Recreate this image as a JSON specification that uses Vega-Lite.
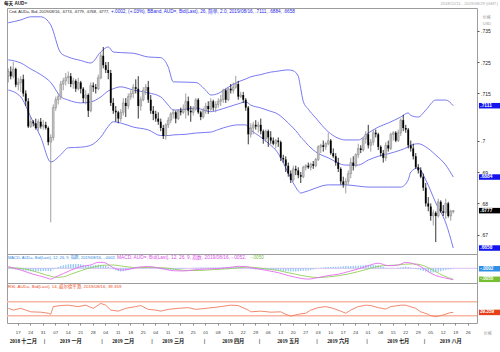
{
"$schema": "https://vega.github.io/schema/vega-lite/v6.json",
"background": "white",
"padding": {"left": 3, "top": 0, "right": 0, "bottom": 0},
"spacing": 0,
"bounds": "flush",
"config": {
  "view": {"stroke": "#9c9c9c", "strokeWidth": 1},
  "text": {"font": "Liberation Sans, Noto Sans CJK SC"}
},
"datasets": {
"px": [
{"date":"2018-12-11","o":0.7205,"h":0.723,"l":0.7185,"c":0.722,"hist":-0.0002},
{"date":"2018-12-12","o":0.722,"h":0.7236,"l":0.7195,"c":0.7205,"hist":-0.0003},
{"date":"2018-12-13","o":0.7205,"h":0.725,"l":0.7198,"c":0.7228,"hist":-0.0004},
{"date":"2018-12-14","o":0.7228,"h":0.7232,"l":0.717,"c":0.7178,"hist":-0.0005},
{"date":"2018-12-17","o":0.7178,"h":0.72,"l":0.716,"c":0.7185,"hist":-0.0006},
{"date":"2018-12-18","o":0.7185,"h":0.7205,"l":0.7155,"c":0.7195,"hist":-0.0008},
{"date":"2018-12-19","o":0.7195,"h":0.721,"l":0.714,"c":0.715,"hist":-0.001},
{"date":"2018-12-20","o":0.715,"h":0.716,"l":0.711,"c":0.7125,"hist":-0.0011},
{"date":"2018-12-21","o":0.7125,"h":0.7135,"l":0.704,"c":0.7045,"hist":-0.0012},
{"date":"2018-12-24","o":0.7045,"h":0.7075,"l":0.704,"c":0.706,"hist":-0.0013},
{"date":"2018-12-25","o":0.706,"h":0.7065,"l":0.7045,"c":0.7055,"hist":-0.0014},
{"date":"2018-12-26","o":0.7055,"h":0.707,"l":0.7035,"c":0.704,"hist":-0.0014},
{"date":"2018-12-27","o":0.704,"h":0.7068,"l":0.703,"c":0.706,"hist":-0.0013},
{"date":"2018-12-28","o":0.706,"h":0.7072,"l":0.7038,"c":0.7045,"hist":-0.0013},
{"date":"2018-12-31","o":0.7045,"h":0.7065,"l":0.7035,"c":0.705,"hist":-0.0012},
{"date":"2019-01-01","o":0.705,"h":0.706,"l":0.7035,"c":0.704,"hist":-0.0012},
{"date":"2019-01-02","o":0.704,"h":0.7045,"l":0.6985,"c":0.6995,"hist":-0.0012},
{"date":"2019-01-03","o":0.6995,"h":0.702,"l":0.674,"c":0.701,"hist":-0.0013},
{"date":"2019-01-04","o":0.701,"h":0.7115,"l":0.7,"c":0.7105,"hist":-0.0005},
{"date":"2019-01-07","o":0.7105,"h":0.714,"l":0.7095,"c":0.713,"hist":0.0002},
{"date":"2019-01-08","o":0.713,"h":0.715,"l":0.7115,"c":0.714,"hist":0.0006},
{"date":"2019-01-09","o":0.714,"h":0.719,"l":0.713,"c":0.718,"hist":0.001},
{"date":"2019-01-10","o":0.718,"h":0.72,"l":0.716,"c":0.719,"hist":0.0014},
{"date":"2019-01-11","o":0.719,"h":0.7215,"l":0.7175,"c":0.72,"hist":0.0016},
{"date":"2019-01-14","o":0.72,"h":0.722,"l":0.718,"c":0.7205,"hist":0.0018},
{"date":"2019-01-15","o":0.7205,"h":0.7215,"l":0.717,"c":0.718,"hist":0.0019},
{"date":"2019-01-16","o":0.718,"h":0.72,"l":0.7165,"c":0.719,"hist":0.0019},
{"date":"2019-01-17","o":0.719,"h":0.7195,"l":0.7155,"c":0.7165,"hist":0.0019},
{"date":"2019-01-18","o":0.7165,"h":0.72,"l":0.716,"c":0.7185,"hist":0.0019},
{"date":"2019-01-21","o":0.7185,"h":0.719,"l":0.715,"c":0.7165,"hist":0.0018},
{"date":"2019-01-22","o":0.7165,"h":0.717,"l":0.712,"c":0.7135,"hist":0.0016},
{"date":"2019-01-23","o":0.7135,"h":0.716,"l":0.7115,"c":0.7145,"hist":0.0014},
{"date":"2019-01-24","o":0.7145,"h":0.715,"l":0.7075,"c":0.7095,"hist":0.0012},
{"date":"2019-01-25","o":0.7095,"h":0.7185,"l":0.709,"c":0.7175,"hist":0.0012},
{"date":"2019-01-28","o":0.7175,"h":0.7185,"l":0.7155,"c":0.717,"hist":0.0013},
{"date":"2019-01-29","o":0.717,"h":0.718,"l":0.715,"c":0.7165,"hist":0.0015},
{"date":"2019-01-30","o":0.7165,"h":0.721,"l":0.716,"c":0.72,"hist":0.0016},
{"date":"2019-01-31","o":0.72,"h":0.728,"l":0.7195,"c":0.727,"hist":0.0015},
{"date":"2019-02-01","o":0.727,"h":0.7298,"l":0.723,"c":0.724,"hist":0.0013},
{"date":"2019-02-04","o":0.724,"h":0.725,"l":0.7215,"c":0.7225,"hist":0.0011},
{"date":"2019-02-05","o":0.7225,"h":0.725,"l":0.7195,"c":0.7215,"hist":0.0008},
{"date":"2019-02-06","o":0.7215,"h":0.7225,"l":0.711,"c":0.712,"hist":0.0003},
{"date":"2019-02-07","o":0.712,"h":0.7135,"l":0.7085,"c":0.7095,"hist":-0.0004},
{"date":"2019-02-08","o":0.7095,"h":0.711,"l":0.706,"c":0.709,"hist":-0.0009},
{"date":"2019-02-11","o":0.709,"h":0.7095,"l":0.7055,"c":0.707,"hist":-0.0012},
{"date":"2019-02-12","o":0.707,"h":0.71,"l":0.706,"c":0.709,"hist":-0.0014},
{"date":"2019-02-13","o":0.709,"h":0.7135,"l":0.708,"c":0.712,"hist":-0.0013},
{"date":"2019-02-14","o":0.712,"h":0.7135,"l":0.7075,"c":0.711,"hist":-0.0011},
{"date":"2019-02-15","o":0.711,"h":0.715,"l":0.71,"c":0.714,"hist":-0.0009},
{"date":"2019-02-18","o":0.714,"h":0.716,"l":0.713,"c":0.715,"hist":-0.0006},
{"date":"2019-02-19","o":0.715,"h":0.718,"l":0.7135,"c":0.717,"hist":-0.0004},
{"date":"2019-02-20","o":0.717,"h":0.7195,"l":0.715,"c":0.7165,"hist":-0.0002},
{"date":"2019-02-21","o":0.7165,"h":0.7205,"l":0.707,"c":0.711,"hist":0},
{"date":"2019-02-22","o":0.711,"h":0.714,"l":0.7095,"c":0.713,"hist":0.0001},
{"date":"2019-02-25","o":0.713,"h":0.717,"l":0.7125,"c":0.716,"hist":0.0002},
{"date":"2019-02-26","o":0.716,"h":0.718,"l":0.7145,"c":0.717,"hist":0.0003},
{"date":"2019-02-27","o":0.717,"h":0.719,"l":0.712,"c":0.713,"hist":0.0003},
{"date":"2019-02-28","o":0.713,"h":0.7145,"l":0.7085,"c":0.7095,"hist":0.0002},
{"date":"2019-03-01","o":0.7095,"h":0.711,"l":0.7065,"c":0.7085,"hist":0.0001},
{"date":"2019-03-04","o":0.7085,"h":0.7095,"l":0.706,"c":0.707,"hist":-0.0001},
{"date":"2019-03-05","o":0.707,"h":0.709,"l":0.705,"c":0.706,"hist":-0.0003},
{"date":"2019-03-06","o":0.706,"h":0.707,"l":0.703,"c":0.704,"hist":-0.0004},
{"date":"2019-03-07","o":0.704,"h":0.705,"l":0.7005,"c":0.7015,"hist":-0.0006},
{"date":"2019-03-08","o":0.7015,"h":0.7055,"l":0.7003,"c":0.705,"hist":-0.0007},
{"date":"2019-03-11","o":0.705,"h":0.7075,"l":0.704,"c":0.7065,"hist":-0.0008},
{"date":"2019-03-12","o":0.7065,"h":0.709,"l":0.7055,"c":0.7085,"hist":-0.0008},
{"date":"2019-03-13","o":0.7085,"h":0.71,"l":0.707,"c":0.709,"hist":-0.0008},
{"date":"2019-03-14","o":0.709,"h":0.7095,"l":0.7055,"c":0.707,"hist":-0.0007},
{"date":"2019-03-15","o":0.707,"h":0.71,"l":0.7065,"c":0.7095,"hist":-0.0005},
{"date":"2019-03-18","o":0.7095,"h":0.7105,"l":0.708,"c":0.709,"hist":-0.0004},
{"date":"2019-03-19","o":0.709,"h":0.7115,"l":0.7085,"c":0.71,"hist":-0.0003},
{"date":"2019-03-20","o":0.71,"h":0.715,"l":0.707,"c":0.7125,"hist":-0.0001},
{"date":"2019-03-21","o":0.7125,"h":0.714,"l":0.708,"c":0.7095,"hist":0},
{"date":"2019-03-22","o":0.7095,"h":0.711,"l":0.706,"c":0.709,"hist":0.0001},
{"date":"2019-03-25","o":0.709,"h":0.711,"l":0.708,"c":0.71,"hist":0.0002},
{"date":"2019-03-26","o":0.71,"h":0.7135,"l":0.7095,"c":0.713,"hist":0.0004},
{"date":"2019-03-27","o":0.713,"h":0.7135,"l":0.7085,"c":0.709,"hist":0.0004},
{"date":"2019-03-28","o":0.709,"h":0.7095,"l":0.7065,"c":0.7075,"hist":0.0004},
{"date":"2019-03-29","o":0.7075,"h":0.7105,"l":0.707,"c":0.7095,"hist":0.0004},
{"date":"2019-04-01","o":0.7095,"h":0.712,"l":0.7085,"c":0.711,"hist":0.0004},
{"date":"2019-04-02","o":0.711,"h":0.7125,"l":0.7085,"c":0.71,"hist":0.0004},
{"date":"2019-04-03","o":0.71,"h":0.7135,"l":0.7095,"c":0.7125,"hist":0.0004},
{"date":"2019-04-04","o":0.7125,"h":0.713,"l":0.7095,"c":0.7105,"hist":0.0004},
{"date":"2019-04-05","o":0.7105,"h":0.7125,"l":0.709,"c":0.7115,"hist":0.0004},
{"date":"2019-04-08","o":0.7115,"h":0.7135,"l":0.7105,"c":0.7125,"hist":0.0004},
{"date":"2019-04-09","o":0.7125,"h":0.7145,"l":0.711,"c":0.713,"hist":0.0004},
{"date":"2019-04-10","o":0.713,"h":0.7165,"l":0.712,"c":0.716,"hist":0.0005},
{"date":"2019-04-11","o":0.716,"h":0.7165,"l":0.712,"c":0.713,"hist":0.0005},
{"date":"2019-04-12","o":0.713,"h":0.717,"l":0.7125,"c":0.7165,"hist":0.0005},
{"date":"2019-04-15","o":0.7165,"h":0.718,"l":0.715,"c":0.716,"hist":0.0006},
{"date":"2019-04-16","o":0.716,"h":0.7185,"l":0.715,"c":0.717,"hist":0.0006},
{"date":"2019-04-17","o":0.717,"h":0.7206,"l":0.7165,"c":0.718,"hist":0.0007},
{"date":"2019-04-18","o":0.718,"h":0.719,"l":0.713,"c":0.714,"hist":0.0007},
{"date":"2019-04-19","o":0.714,"h":0.7155,"l":0.7135,"c":0.7145,"hist":0.0005},
{"date":"2019-04-22","o":0.7145,"h":0.7155,"l":0.712,"c":0.713,"hist":0.0004},
{"date":"2019-04-23","o":0.713,"h":0.7135,"l":0.7095,"c":0.7105,"hist":0.0002},
{"date":"2019-04-24","o":0.7105,"h":0.711,"l":0.6988,"c":0.702,"hist":-0.0001},
{"date":"2019-04-25","o":0.702,"h":0.7055,"l":0.701,"c":0.704,"hist":-0.0003},
{"date":"2019-04-26","o":0.704,"h":0.706,"l":0.702,"c":0.705,"hist":-0.0004},
{"date":"2019-04-29","o":0.705,"h":0.7065,"l":0.7035,"c":0.7045,"hist":-0.0005},
{"date":"2019-04-30","o":0.7045,"h":0.706,"l":0.7025,"c":0.705,"hist":-0.0005},
{"date":"2019-05-01","o":0.705,"h":0.707,"l":0.702,"c":0.703,"hist":-0.0006},
{"date":"2019-05-02","o":0.703,"h":0.7035,"l":0.699,"c":0.7005,"hist":-0.0006},
{"date":"2019-05-03","o":0.7005,"h":0.7035,"l":0.6995,"c":0.703,"hist":-0.0007},
{"date":"2019-05-06","o":0.703,"h":0.7035,"l":0.698,"c":0.701,"hist":-0.0007},
{"date":"2019-05-07","o":0.701,"h":0.703,"l":0.699,"c":0.7,"hist":-0.0008},
{"date":"2019-05-08","o":0.7,"h":0.701,"l":0.6985,"c":0.699,"hist":-0.0009},
{"date":"2019-05-09","o":0.699,"h":0.7005,"l":0.6975,"c":0.7,"hist":-0.0009},
{"date":"2019-05-10","o":0.7,"h":0.701,"l":0.698,"c":0.6995,"hist":-0.001},
{"date":"2019-05-13","o":0.6995,"h":0.7,"l":0.6935,"c":0.6945,"hist":-0.0011},
{"date":"2019-05-14","o":0.6945,"h":0.6955,"l":0.693,"c":0.694,"hist":-0.0012},
{"date":"2019-05-15","o":0.694,"h":0.695,"l":0.69,"c":0.692,"hist":-0.0013},
{"date":"2019-05-16","o":0.692,"h":0.693,"l":0.6885,"c":0.6895,"hist":-0.0013},
{"date":"2019-05-17","o":0.6895,"h":0.6905,"l":0.6865,"c":0.6875,"hist":-0.0014},
{"date":"2019-05-20","o":0.6875,"h":0.692,"l":0.687,"c":0.691,"hist":-0.0014},
{"date":"2019-05-21","o":0.691,"h":0.692,"l":0.689,"c":0.6905,"hist":-0.0014},
{"date":"2019-05-22","o":0.6905,"h":0.6915,"l":0.688,"c":0.689,"hist":-0.0013},
{"date":"2019-05-23","o":0.689,"h":0.69,"l":0.6865,"c":0.6885,"hist":-0.0012},
{"date":"2019-05-24","o":0.6885,"h":0.692,"l":0.688,"c":0.6915,"hist":-0.0011},
{"date":"2019-05-27","o":0.6915,"h":0.6925,"l":0.6905,"c":0.692,"hist":-0.0011},
{"date":"2019-05-28","o":0.692,"h":0.693,"l":0.691,"c":0.6915,"hist":-0.001},
{"date":"2019-05-29","o":0.6915,"h":0.693,"l":0.6905,"c":0.6925,"hist":-0.0008},
{"date":"2019-05-30","o":0.6925,"h":0.6935,"l":0.691,"c":0.692,"hist":-0.0005},
{"date":"2019-05-31","o":0.692,"h":0.6945,"l":0.6915,"c":0.694,"hist":-0.0002},
{"date":"2019-06-03","o":0.694,"h":0.6985,"l":0.6935,"c":0.698,"hist":0},
{"date":"2019-06-04","o":0.698,"h":0.699,"l":0.696,"c":0.6985,"hist":0.0002},
{"date":"2019-06-05","o":0.6985,"h":0.7,"l":0.6965,"c":0.698,"hist":0.0004},
{"date":"2019-06-06","o":0.698,"h":0.6995,"l":0.697,"c":0.699,"hist":0.0006},
{"date":"2019-06-07","o":0.699,"h":0.7025,"l":0.6985,"c":0.7,"hist":0.0006},
{"date":"2019-06-10","o":0.7,"h":0.7005,"l":0.6955,"c":0.696,"hist":0.0006},
{"date":"2019-06-11","o":0.696,"h":0.6975,"l":0.6945,"c":0.695,"hist":0.0007},
{"date":"2019-06-12","o":0.695,"h":0.696,"l":0.692,"c":0.693,"hist":0.0007},
{"date":"2019-06-13","o":0.693,"h":0.6945,"l":0.69,"c":0.691,"hist":0.0007},
{"date":"2019-06-14","o":0.691,"h":0.6915,"l":0.686,"c":0.687,"hist":0.0008},
{"date":"2019-06-17","o":0.687,"h":0.6885,"l":0.685,"c":0.686,"hist":0.0009},
{"date":"2019-06-18","o":0.686,"h":0.688,"l":0.6832,"c":0.687,"hist":0.001},
{"date":"2019-06-19","o":0.687,"h":0.6905,"l":0.686,"c":0.6895,"hist":0.0011},
{"date":"2019-06-20","o":0.6895,"h":0.6945,"l":0.688,"c":0.693,"hist":0.0011},
{"date":"2019-06-21","o":0.693,"h":0.695,"l":0.6905,"c":0.692,"hist":0.0012},
{"date":"2019-06-24","o":0.692,"h":0.696,"l":0.6915,"c":0.6955,"hist":0.0012},
{"date":"2019-06-25","o":0.6955,"h":0.699,"l":0.6945,"c":0.6975,"hist":0.0012},
{"date":"2019-06-26","o":0.6975,"h":0.6985,"l":0.696,"c":0.697,"hist":0.0013},
{"date":"2019-06-27","o":0.697,"h":0.701,"l":0.6965,"c":0.7005,"hist":0.0014},
{"date":"2019-06-28","o":0.7005,"h":0.703,"l":0.699,"c":0.702,"hist":0.0015},
{"date":"2019-07-01","o":0.702,"h":0.705,"l":0.6975,"c":0.6985,"hist":0.0015},
{"date":"2019-07-02","o":0.6985,"h":0.7005,"l":0.6965,"c":0.6995,"hist":0.0015},
{"date":"2019-07-03","o":0.6995,"h":0.7035,"l":0.6985,"c":0.7025,"hist":0.0015},
{"date":"2019-07-04","o":0.7025,"h":0.7035,"l":0.701,"c":0.702,"hist":0.0014},
{"date":"2019-07-05","o":0.702,"h":0.7025,"l":0.697,"c":0.698,"hist":0.0014},
{"date":"2019-07-08","o":0.698,"h":0.6985,"l":0.695,"c":0.696,"hist":0.001},
{"date":"2019-07-09","o":0.696,"h":0.697,"l":0.693,"c":0.6945,"hist":0.0006},
{"date":"2019-07-10","o":0.6945,"h":0.6995,"l":0.6935,"c":0.6985,"hist":0.0002},
{"date":"2019-07-11","o":0.6985,"h":0.7,"l":0.6965,"c":0.6975,"hist":-0.0001},
{"date":"2019-07-12","o":0.6975,"h":0.7025,"l":0.697,"c":0.702,"hist":-0.0001},
{"date":"2019-07-15","o":0.702,"h":0.703,"l":0.7,"c":0.7025,"hist":0},
{"date":"2019-07-16","o":0.7025,"h":0.703,"l":0.6995,"c":0.7,"hist":0},
{"date":"2019-07-17","o":0.7,"h":0.7035,"l":0.6995,"c":0.7025,"hist":0.0002},
{"date":"2019-07-18","o":0.7025,"h":0.707,"l":0.7015,"c":0.7065,"hist":0.0004},
{"date":"2019-07-19","o":0.7065,"h":0.7082,"l":0.703,"c":0.704,"hist":0.0006},
{"date":"2019-07-22","o":0.704,"h":0.705,"l":0.7025,"c":0.7035,"hist":0.0008},
{"date":"2019-07-23","o":0.7035,"h":0.704,"l":0.6975,"c":0.6985,"hist":0.0006},
{"date":"2019-07-24","o":0.6985,"h":0.7,"l":0.6965,"c":0.6975,"hist":0.0004},
{"date":"2019-07-25","o":0.6975,"h":0.699,"l":0.694,"c":0.695,"hist":0.0001},
{"date":"2019-07-26","o":0.695,"h":0.696,"l":0.691,"c":0.6915,"hist":-0.0003},
{"date":"2019-07-29","o":0.6915,"h":0.6925,"l":0.6895,"c":0.6905,"hist":-0.0006},
{"date":"2019-07-30","o":0.6905,"h":0.6915,"l":0.688,"c":0.6885,"hist":-0.0009},
{"date":"2019-07-31","o":0.6885,"h":0.6895,"l":0.684,"c":0.685,"hist":-0.0012},
{"date":"2019-08-01","o":0.685,"h":0.6865,"l":0.679,"c":0.68,"hist":-0.0015},
{"date":"2019-08-02","o":0.68,"h":0.682,"l":0.6775,"c":0.679,"hist":-0.0018},
{"date":"2019-08-05","o":0.679,"h":0.68,"l":0.6745,"c":0.676,"hist":-0.0019},
{"date":"2019-08-06","o":0.676,"h":0.678,"l":0.673,"c":0.677,"hist":-0.0019},
{"date":"2019-08-07","o":0.677,"h":0.6775,"l":0.6677,"c":0.676,"hist":-0.0018},
{"date":"2019-08-08","o":0.676,"h":0.6815,"l":0.6755,"c":0.6805,"hist":-0.0016},
{"date":"2019-08-09","o":0.6805,"h":0.681,"l":0.677,"c":0.6775,"hist":-0.0013},
{"date":"2019-08-12","o":0.6775,"h":0.6795,"l":0.676,"c":0.677,"hist":-0.001},
{"date":"2019-08-13","o":0.677,"h":0.6815,"l":0.675,"c":0.68,"hist":-0.0008},
{"date":"2019-08-14","o":0.68,"h":0.6805,"l":0.6755,"c":0.676,"hist":-0.0006},
{"date":"2019-08-15","o":0.676,"h":0.678,"l":0.6745,"c":0.6775,"hist":-0.0004},
{"date":"2019-08-16","o":0.6774,"h":0.6779,"l":0.6768,"c":0.6777,"hist":-0.0002}
],
"bb": [
{"date":"2018-12-11","up":0.7375,"mid":0.7257,"lo":0.7161},
{"date":"2018-12-18","up":0.7384,"mid":0.7247,"lo":0.7139},
{"date":"2018-12-24","up":0.7394,"mid":0.7228,"lo":0.7075},
{"date":"2018-12-28","up":0.7394,"mid":0.721,"lo":0.7011},
{"date":"2019-01-03","up":0.7368,"mid":0.7185,"lo":0.6932},
{"date":"2019-01-09","up":0.7279,"mid":0.714,"lo":0.6955},
{"date":"2019-01-14","up":0.7266,"mid":0.7129,"lo":0.6977},
{"date":"2019-01-21","up":0.7255,"mid":0.712,"lo":0.6979},
{"date":"2019-01-25","up":0.7247,"mid":0.7123,"lo":0.6985},
{"date":"2019-01-31","up":0.7282,"mid":0.7139,"lo":0.7011},
{"date":"2019-02-05","up":0.7298,"mid":0.7158,"lo":0.7045},
{"date":"2019-02-07","up":0.7282,"mid":0.7165,"lo":0.706},
{"date":"2019-02-12","up":0.728,"mid":0.7171,"lo":0.7056},
{"date":"2019-02-19","up":0.7278,"mid":0.7161,"lo":0.7043},
{"date":"2019-02-27","up":0.7266,"mid":0.7152,"lo":0.7034},
{"date":"2019-03-06","up":0.7264,"mid":0.7139,"lo":0.7016},
{"date":"2019-03-11","up":0.7234,"mid":0.7113,"lo":0.7016},
{"date":"2019-03-13","up":0.7187,"mid":0.7097,"lo":0.7018},
{"date":"2019-03-20","up":0.7186,"mid":0.71,"lo":0.702},
{"date":"2019-03-26","up":0.7185,"mid":0.7104,"lo":0.7024},
{"date":"2019-04-01","up":0.716,"mid":0.7095,"lo":0.7026},
{"date":"2019-04-03","up":0.7145,"mid":0.7092,"lo":0.7027},
{"date":"2019-04-08","up":0.715,"mid":0.7097,"lo":0.7035},
{"date":"2019-04-12","up":0.717,"mid":0.7107,"lo":0.7045},
{"date":"2019-04-18","up":0.7187,"mid":0.7117,"lo":0.705},
{"date":"2019-04-23","up":0.7196,"mid":0.7123,"lo":0.705},
{"date":"2019-04-25","up":0.7203,"mid":0.7113,"lo":0.7034},
{"date":"2019-05-01","up":0.721,"mid":0.7104,"lo":0.7011},
{"date":"2019-05-07","up":0.7218,"mid":0.7093,"lo":0.6985},
{"date":"2019-05-09","up":0.722,"mid":0.7088,"lo":0.697},
{"date":"2019-05-16","up":0.7225,"mid":0.7056,"lo":0.6897},
{"date":"2019-05-20","up":0.7222,"mid":0.704,"lo":0.6865},
{"date":"2019-05-22","up":0.7205,"mid":0.7022,"lo":0.684},
{"date":"2019-05-23","up":0.7165,"mid":0.7011,"lo":0.6833},
{"date":"2019-05-24","up":0.7125,"mid":0.7003,"lo":0.6835},
{"date":"2019-05-28","up":0.71,"mid":0.6985,"lo":0.684},
{"date":"2019-05-31","up":0.7072,"mid":0.6964,"lo":0.6849},
{"date":"2019-06-07","up":0.7028,"mid":0.6945,"lo":0.6859},
{"date":"2019-06-18","up":0.7002,"mid":0.6922,"lo":0.6859},
{"date":"2019-06-25","up":0.7002,"mid":0.6922,"lo":0.6855},
{"date":"2019-07-01","up":0.7024,"mid":0.6938,"lo":0.6852},
{"date":"2019-07-05","up":0.7043,"mid":0.695,"lo":0.6852},
{"date":"2019-07-11","up":0.7056,"mid":0.6958,"lo":0.6852},
{"date":"2019-07-18","up":0.7075,"mid":0.697,"lo":0.6852},
{"date":"2019-07-23","up":0.7088,"mid":0.698,"lo":0.6875},
{"date":"2019-07-24","up":0.708,"mid":0.6985,"lo":0.69},
{"date":"2019-07-29","up":0.7075,"mid":0.699,"lo":0.6913},
{"date":"2019-08-01","up":0.7097,"mid":0.698,"lo":0.6875},
{"date":"2019-08-07","up":0.7129,"mid":0.6954,"lo":0.6802},
{"date":"2019-08-13","up":0.7129,"mid":0.6922,"lo":0.6738},
{"date":"2019-08-16","up":0.7111,"mid":0.6884,"lo":0.6658}
],
"macd": [
{"date":"2018-12-11","macd":0.0008,"sig":0.0003},
{"date":"2018-12-18","macd":-0.0008,"sig":0},
{"date":"2018-12-25","macd":-0.0027,"sig":-0.0012},
{"date":"2019-01-01","macd":-0.0042,"sig":-0.003},
{"date":"2019-01-03","macd":-0.0049,"sig":-0.0036},
{"date":"2019-01-07","macd":-0.0039,"sig":-0.0041},
{"date":"2019-01-10","macd":-0.0024,"sig":-0.0039},
{"date":"2019-01-15","macd":-0.0009,"sig":-0.0027},
{"date":"2019-01-21","macd":0.0008,"sig":-0.0011},
{"date":"2019-01-25","macd":0.0015,"sig":0.0003},
{"date":"2019-01-30","macd":0.0027,"sig":0.001},
{"date":"2019-02-01","macd":0.0027,"sig":0.0014},
{"date":"2019-02-07","macd":0.0003,"sig":0.0015},
{"date":"2019-02-12","macd":-0.0008,"sig":0.0011},
{"date":"2019-02-15","macd":-0.0005,"sig":0.0006},
{"date":"2019-02-21","macd":0.0005,"sig":0.0003},
{"date":"2019-02-27","macd":0.0008,"sig":0.0004},
{"date":"2019-03-06","macd":0,"sig":0.0003},
{"date":"2019-03-13","macd":-0.0011,"sig":-0.0003},
{"date":"2019-03-19","macd":-0.0012,"sig":-0.0009},
{"date":"2019-03-27","macd":-0.0005,"sig":-0.001},
{"date":"2019-04-04","macd":-0.0002,"sig":-0.0006},
{"date":"2019-04-12","macd":0.0003,"sig":-0.0002},
{"date":"2019-04-18","macd":0.0009,"sig":0.0002},
{"date":"2019-04-23","macd":0.0008,"sig":0.0005},
{"date":"2019-04-25","macd":0.0003,"sig":0.0005},
{"date":"2019-04-30","macd":-0.0003,"sig":0.0002},
{"date":"2019-05-06","macd":-0.0011,"sig":-0.0004},
{"date":"2019-05-10","macd":-0.002,"sig":-0.001},
{"date":"2019-05-16","macd":-0.0033,"sig":-0.002},
{"date":"2019-05-21","macd":-0.0041,"sig":-0.0027},
{"date":"2019-05-28","macd":-0.0049,"sig":-0.0038},
{"date":"2019-06-03","macd":-0.0042,"sig":-0.0042},
{"date":"2019-06-07","macd":-0.0033,"sig":-0.0039},
{"date":"2019-06-13","macd":-0.0027,"sig":-0.0034},
{"date":"2019-06-19","macd":-0.0015,"sig":-0.0026},
{"date":"2019-06-25","macd":-0.0003,"sig":-0.0015},
{"date":"2019-07-01","macd":0.0012,"sig":-0.0003},
{"date":"2019-07-05","macd":0.0023,"sig":0.0009},
{"date":"2019-07-11","macd":0.0012,"sig":0.0013},
{"date":"2019-07-17","macd":0.0015,"sig":0.0015},
{"date":"2019-07-22","macd":0.0027,"sig":0.0019},
{"date":"2019-07-25","macd":0.0021,"sig":0.002},
{"date":"2019-07-30","macd":0.0008,"sig":0.0016},
{"date":"2019-08-02","macd":-0.0015,"sig":0.0003},
{"date":"2019-08-07","macd":-0.0033,"sig":-0.0015},
{"date":"2019-08-12","macd":-0.0042,"sig":-0.0033},
{"date":"2019-08-16","macd":-0.0052,"sig":-0.005}
],
"rsi": [
{"date":"2018-12-11","rsi":51},{"date":"2018-12-13","rsi":46},{"date":"2018-12-18","rsi":51},{"date":"2018-12-24","rsi":41},
{"date":"2018-12-28","rsi":40},{"date":"2019-01-02","rsi":37},{"date":"2019-01-03","rsi":34},{"date":"2019-01-04","rsi":56},
{"date":"2019-01-09","rsi":59},{"date":"2019-01-14","rsi":60},{"date":"2019-01-18","rsi":56},{"date":"2019-01-23","rsi":60},
{"date":"2019-01-28","rsi":51},{"date":"2019-01-31","rsi":65},{"date":"2019-02-04","rsi":60},{"date":"2019-02-06","rsi":46},
{"date":"2019-02-11","rsi":43},{"date":"2019-02-14","rsi":51},{"date":"2019-02-20","rsi":56},{"date":"2019-02-22","rsi":59},
{"date":"2019-02-27","rsi":48},{"date":"2019-03-04","rsi":46},{"date":"2019-03-06","rsi":43},{"date":"2019-03-11","rsi":48},
{"date":"2019-03-15","rsi":51},{"date":"2019-03-21","rsi":53},{"date":"2019-03-26","rsi":48},{"date":"2019-04-01","rsi":51},
{"date":"2019-04-05","rsi":54},{"date":"2019-04-09","rsi":56},{"date":"2019-04-15","rsi":60},{"date":"2019-04-18","rsi":59},
{"date":"2019-04-24","rsi":46},{"date":"2019-04-25","rsi":41},{"date":"2019-05-01","rsi":43},{"date":"2019-05-07","rsi":40},
{"date":"2019-05-13","rsi":41},{"date":"2019-05-15","rsi":34},{"date":"2019-05-17","rsi":29},{"date":"2019-05-22","rsi":34},
{"date":"2019-05-27","rsi":37},{"date":"2019-05-29","rsi":46},{"date":"2019-06-03","rsi":53},{"date":"2019-06-06","rsi":56},
{"date":"2019-06-11","rsi":51},{"date":"2019-06-14","rsi":43},{"date":"2019-06-18","rsi":37},{"date":"2019-06-20","rsi":46},
{"date":"2019-06-25","rsi":56},{"date":"2019-06-28","rsi":60},{"date":"2019-07-02","rsi":59},{"date":"2019-07-05","rsi":53},
{"date":"2019-07-10","rsi":49},{"date":"2019-07-12","rsi":56},{"date":"2019-07-18","rsi":60},{"date":"2019-07-22","rsi":60},
{"date":"2019-07-26","rsi":51},{"date":"2019-07-30","rsi":41},{"date":"2019-08-02","rsi":34},{"date":"2019-08-05","rsi":30},
{"date":"2019-08-07","rsi":27},{"date":"2019-08-12","rsi":32},{"date":"2019-08-14","rsi":37},{"date":"2019-08-15","rsi":39},
{"date":"2019-08-16","rsi":39.359}
],
"lvl": [
{"p":"macd","v":0},{"p":"rsi","v":70},{"p":"rsi","v":30}
],
"tags": [
{"p":"main","k":"bb","date":"2019-08-29","v":0.7111,"t":".7111"},
{"p":"main","k":"bb","date":"2019-08-29","v":0.6884,"t":".6884"},
{"p":"main","k":"bb","date":"2019-08-29","v":0.6658,"t":".6658"},
{"p":"main","k":"px","date":"2019-08-29","v":0.6777,"t":".6777"},
{"p":"macd","k":"hist","date":"2019-08-29","v":-0.0002,"t":"-.0002"},
{"p":"macd","k":"sig","date":"2019-08-29","v":-0.005,"t":"-.0050"},
{"p":"rsi","k":"rsi","date":"2019-08-29","v":39.359,"t":"39.359"}
],
"notes": [
{"pos":"tl","date":"2018-12-11","t":"每天 AUD="},
{"pos":"tr","date":"2019-08-29","t":"2018/12/11 - 2019/08/29 (GMT)"},
{"pos":"l1","date":"2018-12-11","t":"Cnd, AUD=, Bid, 2019/08/16, .6774, .6779, .6768, .6777,"},
{"pos":"l2","date":"2018-12-11","t":"+.0002, (+.03%), BBand, AUD=, Bid(Last), 26, 简单, 2.0, 2019/08/16, .7111, .6884, .6658"},
{"pos":"u1","date":"2019-08-29","t":"价格"},
{"pos":"u2","date":"2019-08-29","t":"USD"},
{"pos":"m1","date":"2018-12-11","t":"MACD, AUD=, Bid(Last), 12, 26, 9, 指数, 2019/08/16, -.0002,"},
{"pos":"m2","date":"2018-12-11","t":"MACD, AUD=, Bid(Last), 12, 26, 9, 指数, 2019/08/16, -.0052,"},
{"pos":"m3","date":"2018-12-11","t":"-.0050"},
{"pos":"r1","date":"2018-12-11","t":"RSI, AUD=, Bid(Last), 14, 威尔德平滑, 2019/08/16, 39.359"},
{"pos":"b1","date":"2019-08-29","t":"价格"}
],
"mon": [
{"date":"2018-12-19","label":"2018 十二月"},
{"date":"2019-01-15","label":"2019 一月"},
{"date":"2019-02-13","label":"2019 二月"},
{"date":"2019-03-13","label":"2019 三月"},
{"date":"2019-04-16","label":"2019 四月"},
{"date":"2019-05-16","label":"2019 五月"},
{"date":"2019-06-13","label":"2019 六月"},
{"date":"2019-07-17","label":"2019 七月"},
{"date":"2019-08-15","label":"2019 八月"}
],
"sep": [
{"date":"2019-01-01"},{"date":"2019-02-01"},{"date":"2019-03-01"},{"date":"2019-04-01"},
{"date":"2019-05-01"},{"date":"2019-06-03"},{"date":"2019-07-01"},{"date":"2019-08-01"}
]
},
"vconcat": [
{
"width": 470, "height": 246,
"layer": [
{"data": {"name": "bb"}, "mark": {"type": "line", "color": "#6a6aee", "strokeWidth": 0.9, "interpolate": "monotone"},
 "encoding": {"x": {"field": "date", "type": "ordinal", "axis": null, "scale": {"type": "band", "paddingInner": 0, "paddingOuter": 0, "domain": ["2018-12-11","2018-12-12","2018-12-13","2018-12-14","2018-12-17","2018-12-18","2018-12-19","2018-12-20","2018-12-21","2018-12-24","2018-12-25","2018-12-26","2018-12-27","2018-12-28","2018-12-31","2019-01-01","2019-01-02","2019-01-03","2019-01-04","2019-01-07","2019-01-08","2019-01-09","2019-01-10","2019-01-11","2019-01-14","2019-01-15","2019-01-16","2019-01-17","2019-01-18","2019-01-21","2019-01-22","2019-01-23","2019-01-24","2019-01-25","2019-01-28","2019-01-29","2019-01-30","2019-01-31","2019-02-01","2019-02-04","2019-02-05","2019-02-06","2019-02-07","2019-02-08","2019-02-11","2019-02-12","2019-02-13","2019-02-14","2019-02-15","2019-02-18","2019-02-19","2019-02-20","2019-02-21","2019-02-22","2019-02-25","2019-02-26","2019-02-27","2019-02-28","2019-03-01","2019-03-04","2019-03-05","2019-03-06","2019-03-07","2019-03-08","2019-03-11","2019-03-12","2019-03-13","2019-03-14","2019-03-15","2019-03-18","2019-03-19","2019-03-20","2019-03-21","2019-03-22","2019-03-25","2019-03-26","2019-03-27","2019-03-28","2019-03-29","2019-04-01","2019-04-02","2019-04-03","2019-04-04","2019-04-05","2019-04-08","2019-04-09","2019-04-10","2019-04-11","2019-04-12","2019-04-15","2019-04-16","2019-04-17","2019-04-18","2019-04-19","2019-04-22","2019-04-23","2019-04-24","2019-04-25","2019-04-26","2019-04-29","2019-04-30","2019-05-01","2019-05-02","2019-05-03","2019-05-06","2019-05-07","2019-05-08","2019-05-09","2019-05-10","2019-05-13","2019-05-14","2019-05-15","2019-05-16","2019-05-17","2019-05-20","2019-05-21","2019-05-22","2019-05-23","2019-05-24","2019-05-27","2019-05-28","2019-05-29","2019-05-30","2019-05-31","2019-06-03","2019-06-04","2019-06-05","2019-06-06","2019-06-07","2019-06-10","2019-06-11","2019-06-12","2019-06-13","2019-06-14","2019-06-17","2019-06-18","2019-06-19","2019-06-20","2019-06-21","2019-06-24","2019-06-25","2019-06-26","2019-06-27","2019-06-28","2019-07-01","2019-07-02","2019-07-03","2019-07-04","2019-07-05","2019-07-08","2019-07-09","2019-07-10","2019-07-11","2019-07-12","2019-07-15","2019-07-16","2019-07-17","2019-07-18","2019-07-19","2019-07-22","2019-07-23","2019-07-24","2019-07-25","2019-07-26","2019-07-29","2019-07-30","2019-07-31","2019-08-01","2019-08-02","2019-08-05","2019-08-06","2019-08-07","2019-08-08","2019-08-09","2019-08-12","2019-08-13","2019-08-14","2019-08-15","2019-08-16","2019-08-19","2019-08-20","2019-08-21","2019-08-22","2019-08-23","2019-08-26","2019-08-27","2019-08-28","2019-08-29"]}},
  "y": {"field": "up", "type": "quantitative", "title": null, "scale": {"domain": [0.6639, 0.7422], "nice": false, "zero": false}}}},
{"data": {"name": "bb"}, "mark": {"type": "line", "color": "#6a6aee", "strokeWidth": 0.9, "interpolate": "monotone"},
 "encoding": {"x": {"field": "date", "type": "ordinal", "axis": null}, "y": {"field": "mid", "type": "quantitative", "title": null}}},
{"data": {"name": "bb"}, "mark": {"type": "line", "color": "#6a6aee", "strokeWidth": 0.9, "interpolate": "monotone"},
 "encoding": {"x": {"field": "date", "type": "ordinal", "axis": null}, "y": {"field": "lo", "type": "quantitative", "title": null}}},
{"data": {"name": "px"}, "transform": [{"filter": "datum.c >= datum.o"}], "mark": {"type": "rule", "strokeWidth": 0.8, "color": "#888888"},
 "encoding": {"x": {"field": "date", "type": "ordinal", "axis": null}, "y": {"field": "l", "type": "quantitative", "title": null}, "y2": {"field": "h"}}},
{"data": {"name": "px"}, "transform": [{"filter": "datum.c < datum.o"}], "mark": {"type": "rule", "strokeWidth": 0.8, "color": "#000000"},
 "encoding": {"x": {"field": "date", "type": "ordinal", "axis": null}, "y": {"field": "l", "type": "quantitative", "title": null}, "y2": {"field": "h"}}},
{"data": {"name": "px"}, "transform": [{"filter": "datum.c >= datum.o"}], "mark": {"type": "bar", "size": 1.8, "fill": "#c8c8c8", "stroke": "#7e7e7e", "strokeWidth": 0.5},
 "encoding": {"x": {"field": "date", "type": "ordinal", "axis": null}, "y": {"field": "o", "type": "quantitative", "title": null}, "y2": {"field": "c"}}},
{"data": {"name": "px"}, "transform": [{"filter": "datum.c < datum.o"}], "mark": {"type": "bar", "size": 1.8, "color": "#000000"},
 "encoding": {"x": {"field": "date", "type": "ordinal", "axis": null},
  "y": {"field": "o", "type": "quantitative", "title": null,
    "axis": {"orient": "right", "title": null, "grid": false, "domain": false, "labelOverlap": false, "values": [0.67,0.675,0.68,0.685,0.69,0.695,0.7,0.705,0.715,0.72,0.725,0.73,0.735], "labelExpr": "substring(format(datum.value, '.3~f'), 1)", "tickSize": 2, "tickColor": "#555555", "labelFontSize": 5, "labelColor": "#222222", "labelPadding": 1.5}},
  "y2": {"field": "c"}}},
{"data": {"name": "tags"}, "transform": [{"filter": "datum.p == 'main' && datum.k == 'bb'"}],
 "mark": {"type": "point", "shape": "M0,-0.25H2V0.25H0Z", "size": 484, "filled": true, "opacity": 1, "strokeWidth": 0, "xOffset": 3.2, "color": "#1414f0"},
 "encoding": {"x": {"field": "date", "type": "ordinal", "axis": null}, "y": {"field": "v", "type": "quantitative", "title": null}}},
{"data": {"name": "tags"}, "transform": [{"filter": "datum.p == 'main' && datum.k == 'px'"}],
 "mark": {"type": "point", "shape": "M0,-0.25H2V0.25H0Z", "size": 484, "filled": true, "opacity": 1, "strokeWidth": 0, "xOffset": 3.2, "color": "#000000"},
 "encoding": {"x": {"field": "date", "type": "ordinal", "axis": null}, "y": {"field": "v", "type": "quantitative", "title": null}}},
{"data": {"name": "tags"}, "transform": [{"filter": "datum.p == 'main'"}],
 "mark": {"type": "text", "align": "left", "baseline": "middle", "dx": 4.6, "fontSize": 4.8, "fontWeight": "bold", "color": "#ffffff"},
 "encoding": {"x": {"field": "date", "type": "ordinal", "axis": null}, "y": {"field": "v", "type": "quantitative", "title": null}, "text": {"field": "t"}}},
{"data": {"name": "notes"}, "transform": [{"filter": "datum.pos == 'tl'"}],
 "mark": {"type": "text", "align": "left", "baseline": "middle", "dx": -4.25, "dy": -4, "fontSize": 4.6, "fontWeight": "bold", "color": "#222222"},
 "encoding": {"x": {"field": "date", "type": "ordinal", "axis": null}, "y": {"datum": 0.7422, "type": "quantitative", "title": null}, "text": {"field": "t"}}},
{"data": {"name": "notes"}, "transform": [{"filter": "datum.pos == 'tr'"}],
 "mark": {"type": "text", "align": "right", "baseline": "middle", "dx": 22, "dy": -4, "fontSize": 4.1, "color": "#aaaaaa"},
 "encoding": {"x": {"field": "date", "type": "ordinal", "axis": null}, "y": {"datum": 0.7422, "type": "quantitative", "title": null}, "text": {"field": "t"}}},
{"data": {"name": "notes"}, "transform": [{"filter": "datum.pos == 'l1'"}],
 "mark": {"type": "text", "align": "left", "baseline": "middle", "dx": 0.75, "dy": 4, "fontSize": 4, "color": "#222222"},
 "encoding": {"x": {"field": "date", "type": "ordinal", "axis": null}, "y": {"datum": 0.7422, "type": "quantitative", "title": null}, "text": {"field": "t"}}},
{"data": {"name": "notes"}, "transform": [{"filter": "datum.pos == 'l2'"}],
 "mark": {"type": "text", "align": "left", "baseline": "middle", "dx": 102.75, "dy": 4, "fontSize": 4.7, "color": "#2a2ae6"},
 "encoding": {"x": {"field": "date", "type": "ordinal", "axis": null}, "y": {"datum": 0.7422, "type": "quantitative", "title": null}, "text": {"field": "t"}}},
{"data": {"name": "notes"}, "transform": [{"filter": "datum.pos == 'u1'"}],
 "mark": {"type": "text", "align": "left", "baseline": "middle", "dx": 7, "dy": 10, "fontSize": 4, "color": "#9a9a9a"},
 "encoding": {"x": {"field": "date", "type": "ordinal", "axis": null}, "y": {"datum": 0.7422, "type": "quantitative", "title": null}, "text": {"field": "t"}}},
{"data": {"name": "notes"}, "transform": [{"filter": "datum.pos == 'u2'"}],
 "mark": {"type": "text", "align": "left", "baseline": "middle", "dx": 7, "dy": 16, "fontSize": 4, "color": "#9a9a9a"},
 "encoding": {"x": {"field": "date", "type": "ordinal", "axis": null}, "y": {"datum": 0.7422, "type": "quantitative", "title": null}, "text": {"field": "t"}}}
]
},
{
"width": 470, "height": 29,
"layer": [
{"data": {"name": "lvl"}, "transform": [{"filter": "datum.p == 'macd'"}], "mark": {"type": "rule", "color": "#cda6ec", "strokeWidth": 0.7},
 "encoding": {"y": {"field": "v", "type": "quantitative", "axis": null, "scale": {"domain": [-0.00668, 0.0065], "nice": false, "zero": false}}}},
{"data": {"name": "px"}, "mark": {"type": "bar", "size": 1.2, "color": "#8ac6f2"},
 "encoding": {"x": {"field": "date", "type": "ordinal", "axis": null, "scale": {"type": "band", "paddingInner": 0, "paddingOuter": 0, "domain": ["2018-12-11","2018-12-12","2018-12-13","2018-12-14","2018-12-17","2018-12-18","2018-12-19","2018-12-20","2018-12-21","2018-12-24","2018-12-25","2018-12-26","2018-12-27","2018-12-28","2018-12-31","2019-01-01","2019-01-02","2019-01-03","2019-01-04","2019-01-07","2019-01-08","2019-01-09","2019-01-10","2019-01-11","2019-01-14","2019-01-15","2019-01-16","2019-01-17","2019-01-18","2019-01-21","2019-01-22","2019-01-23","2019-01-24","2019-01-25","2019-01-28","2019-01-29","2019-01-30","2019-01-31","2019-02-01","2019-02-04","2019-02-05","2019-02-06","2019-02-07","2019-02-08","2019-02-11","2019-02-12","2019-02-13","2019-02-14","2019-02-15","2019-02-18","2019-02-19","2019-02-20","2019-02-21","2019-02-22","2019-02-25","2019-02-26","2019-02-27","2019-02-28","2019-03-01","2019-03-04","2019-03-05","2019-03-06","2019-03-07","2019-03-08","2019-03-11","2019-03-12","2019-03-13","2019-03-14","2019-03-15","2019-03-18","2019-03-19","2019-03-20","2019-03-21","2019-03-22","2019-03-25","2019-03-26","2019-03-27","2019-03-28","2019-03-29","2019-04-01","2019-04-02","2019-04-03","2019-04-04","2019-04-05","2019-04-08","2019-04-09","2019-04-10","2019-04-11","2019-04-12","2019-04-15","2019-04-16","2019-04-17","2019-04-18","2019-04-19","2019-04-22","2019-04-23","2019-04-24","2019-04-25","2019-04-26","2019-04-29","2019-04-30","2019-05-01","2019-05-02","2019-05-03","2019-05-06","2019-05-07","2019-05-08","2019-05-09","2019-05-10","2019-05-13","2019-05-14","2019-05-15","2019-05-16","2019-05-17","2019-05-20","2019-05-21","2019-05-22","2019-05-23","2019-05-24","2019-05-27","2019-05-28","2019-05-29","2019-05-30","2019-05-31","2019-06-03","2019-06-04","2019-06-05","2019-06-06","2019-06-07","2019-06-10","2019-06-11","2019-06-12","2019-06-13","2019-06-14","2019-06-17","2019-06-18","2019-06-19","2019-06-20","2019-06-21","2019-06-24","2019-06-25","2019-06-26","2019-06-27","2019-06-28","2019-07-01","2019-07-02","2019-07-03","2019-07-04","2019-07-05","2019-07-08","2019-07-09","2019-07-10","2019-07-11","2019-07-12","2019-07-15","2019-07-16","2019-07-17","2019-07-18","2019-07-19","2019-07-22","2019-07-23","2019-07-24","2019-07-25","2019-07-26","2019-07-29","2019-07-30","2019-07-31","2019-08-01","2019-08-02","2019-08-05","2019-08-06","2019-08-07","2019-08-08","2019-08-09","2019-08-12","2019-08-13","2019-08-14","2019-08-15","2019-08-16","2019-08-19","2019-08-20","2019-08-21","2019-08-22","2019-08-23","2019-08-26","2019-08-27","2019-08-28","2019-08-29"]}},
  "y": {"field": "hist", "type": "quantitative", "axis": null}}},
{"data": {"name": "macd"}, "mark": {"type": "line", "color": "#93cf5a", "strokeWidth": 0.9, "interpolate": "monotone"},
 "encoding": {"x": {"field": "date", "type": "ordinal", "axis": null}, "y": {"field": "sig", "type": "quantitative", "axis": null}}},
{"data": {"name": "macd"}, "mark": {"type": "line", "color": "#e46cf0", "strokeWidth": 0.9, "interpolate": "monotone"},
 "encoding": {"x": {"field": "date", "type": "ordinal", "axis": null}, "y": {"field": "macd", "type": "quantitative", "axis": null}}},
{"data": {"name": "tags"}, "transform": [{"filter": "datum.p == 'macd' && datum.k == 'hist'"}],
 "mark": {"type": "point", "shape": "M0,-0.25H2V0.25H0Z", "size": 484, "filled": true, "opacity": 1, "strokeWidth": 0, "xOffset": 3.2, "color": "#2e8fe6"},
 "encoding": {"x": {"field": "date", "type": "ordinal", "axis": null}, "y": {"field": "v", "type": "quantitative", "axis": null}}},
{"data": {"name": "tags"}, "transform": [{"filter": "datum.p == 'macd' && datum.k == 'sig'"}],
 "mark": {"type": "point", "shape": "M0,-0.25H2V0.25H0Z", "size": 484, "filled": true, "opacity": 1, "strokeWidth": 0, "xOffset": 3.2, "color": "#74c030"},
 "encoding": {"x": {"field": "date", "type": "ordinal", "axis": null}, "y": {"field": "v", "type": "quantitative", "axis": null}}},
{"data": {"name": "tags"}, "transform": [{"filter": "datum.p == 'macd'"}],
 "mark": {"type": "text", "align": "left", "baseline": "middle", "dx": 4.6, "fontSize": 4.6, "fontWeight": "bold", "color": "#ffffff"},
 "encoding": {"x": {"field": "date", "type": "ordinal", "axis": null}, "y": {"field": "v", "type": "quantitative", "axis": null}, "text": {"field": "t"}}},
{"data": {"name": "notes"}, "transform": [{"filter": "datum.pos == 'm1'"}],
 "mark": {"type": "text", "align": "left", "baseline": "middle", "dx": -0.25, "dy": 4, "fontSize": 4, "color": "#2a86e0"},
 "encoding": {"x": {"field": "date", "type": "ordinal", "axis": null}, "y": {"datum": 0.0065, "type": "quantitative", "axis": null}, "text": {"field": "t"}}},
{"data": {"name": "notes"}, "transform": [{"filter": "datum.pos == 'm2'"}],
 "mark": {"type": "text", "align": "left", "baseline": "middle", "dx": 108.75, "dy": 4, "fontSize": 4.8, "color": "#d84fe6"},
 "encoding": {"x": {"field": "date", "type": "ordinal", "axis": null}, "y": {"datum": 0.0065, "type": "quantitative", "axis": null}, "text": {"field": "t"}}},
{"data": {"name": "notes"}, "transform": [{"filter": "datum.pos == 'm3'"}],
 "mark": {"type": "text", "align": "left", "baseline": "middle", "dx": 242.5, "dy": 4, "fontSize": 4.6, "color": "#7cc040"},
 "encoding": {"x": {"field": "date", "type": "ordinal", "axis": null}, "y": {"datum": 0.0065, "type": "quantitative", "axis": null}, "text": {"field": "t"}}}
]
},
{
"width": 470, "height": 40,
"layer": [
{"data": {"name": "lvl"}, "transform": [{"filter": "datum.p == 'rsi'"}], "mark": {"type": "rule", "color": "#f8b6a4", "strokeWidth": 1.6},
 "encoding": {"y": {"field": "v", "type": "quantitative", "axis": null, "scale": {"domain": [9.1, 123.4], "nice": false, "zero": false}}}},
{"data": {"name": "rsi"}, "mark": {"type": "line", "color": "#f07a5c", "strokeWidth": 0.9},
 "encoding": {
  "x": {"field": "date", "type": "ordinal", "title": null,
   "scale": {"type": "band", "paddingInner": 0, "paddingOuter": 0, "domain": ["2018-12-11","2018-12-12","2018-12-13","2018-12-14","2018-12-17","2018-12-18","2018-12-19","2018-12-20","2018-12-21","2018-12-24","2018-12-25","2018-12-26","2018-12-27","2018-12-28","2018-12-31","2019-01-01","2019-01-02","2019-01-03","2019-01-04","2019-01-07","2019-01-08","2019-01-09","2019-01-10","2019-01-11","2019-01-14","2019-01-15","2019-01-16","2019-01-17","2019-01-18","2019-01-21","2019-01-22","2019-01-23","2019-01-24","2019-01-25","2019-01-28","2019-01-29","2019-01-30","2019-01-31","2019-02-01","2019-02-04","2019-02-05","2019-02-06","2019-02-07","2019-02-08","2019-02-11","2019-02-12","2019-02-13","2019-02-14","2019-02-15","2019-02-18","2019-02-19","2019-02-20","2019-02-21","2019-02-22","2019-02-25","2019-02-26","2019-02-27","2019-02-28","2019-03-01","2019-03-04","2019-03-05","2019-03-06","2019-03-07","2019-03-08","2019-03-11","2019-03-12","2019-03-13","2019-03-14","2019-03-15","2019-03-18","2019-03-19","2019-03-20","2019-03-21","2019-03-22","2019-03-25","2019-03-26","2019-03-27","2019-03-28","2019-03-29","2019-04-01","2019-04-02","2019-04-03","2019-04-04","2019-04-05","2019-04-08","2019-04-09","2019-04-10","2019-04-11","2019-04-12","2019-04-15","2019-04-16","2019-04-17","2019-04-18","2019-04-19","2019-04-22","2019-04-23","2019-04-24","2019-04-25","2019-04-26","2019-04-29","2019-04-30","2019-05-01","2019-05-02","2019-05-03","2019-05-06","2019-05-07","2019-05-08","2019-05-09","2019-05-10","2019-05-13","2019-05-14","2019-05-15","2019-05-16","2019-05-17","2019-05-20","2019-05-21","2019-05-22","2019-05-23","2019-05-24","2019-05-27","2019-05-28","2019-05-29","2019-05-30","2019-05-31","2019-06-03","2019-06-04","2019-06-05","2019-06-06","2019-06-07","2019-06-10","2019-06-11","2019-06-12","2019-06-13","2019-06-14","2019-06-17","2019-06-18","2019-06-19","2019-06-20","2019-06-21","2019-06-24","2019-06-25","2019-06-26","2019-06-27","2019-06-28","2019-07-01","2019-07-02","2019-07-03","2019-07-04","2019-07-05","2019-07-08","2019-07-09","2019-07-10","2019-07-11","2019-07-12","2019-07-15","2019-07-16","2019-07-17","2019-07-18","2019-07-19","2019-07-22","2019-07-23","2019-07-24","2019-07-25","2019-07-26","2019-07-29","2019-07-30","2019-07-31","2019-08-01","2019-08-02","2019-08-05","2019-08-06","2019-08-07","2019-08-08","2019-08-09","2019-08-12","2019-08-13","2019-08-14","2019-08-15","2019-08-16","2019-08-19","2019-08-20","2019-08-21","2019-08-22","2019-08-23","2019-08-26","2019-08-27","2019-08-28","2019-08-29"]},
   "axis": {"orient": "bottom", "title": null, "labelAngle": 0, "domain": false, "grid": false, "values": ["2018-12-17","2018-12-24","2018-12-31","2019-01-07","2019-01-14","2019-01-21","2019-01-28","2019-02-04","2019-02-11","2019-02-18","2019-02-25","2019-03-04","2019-03-11","2019-03-18","2019-03-25","2019-04-01","2019-04-08","2019-04-15","2019-04-22","2019-04-29","2019-05-06","2019-05-13","2019-05-20","2019-05-27","2019-06-03","2019-06-10","2019-06-17","2019-06-24","2019-07-01","2019-07-08","2019-07-15","2019-07-22","2019-07-29","2019-08-05","2019-08-12","2019-08-19","2019-08-26"], "labelExpr": "substring(datum.value, 8, 10)", "labelFontSize": 4.3, "labelColor": "#333333", "tickSize": 2, "tickColor": "#888888", "labelPadding": 5}},
  "y": {"field": "rsi", "type": "quantitative", "axis": null}}},
{"data": {"name": "mon"}, "mark": {"type": "text", "baseline": "middle", "dy": 18, "fontSize": 5.2, "fontWeight": "bold", "font": "Liberation Serif, Noto Sans CJK SC", "color": "#111111"},
 "encoding": {"x": {"field": "date", "type": "ordinal", "title": null}, "y": {"datum": 9.1, "type": "quantitative", "axis": null}, "text": {"field": "label"}}},
{"data": {"name": "sep"}, "mark": {"type": "text", "text": "|", "baseline": "middle", "dx": -1.2, "dy": 18, "fontSize": 6, "color": "#222222"},
 "encoding": {"x": {"field": "date", "type": "ordinal", "title": null}, "y": {"datum": 9.1, "type": "quantitative", "axis": null}}},
{"data": {"name": "tags"}, "transform": [{"filter": "datum.p == 'rsi'"}],
 "mark": {"type": "point", "shape": "M0,-0.25H2V0.25H0Z", "size": 484, "filled": true, "opacity": 1, "strokeWidth": 0, "xOffset": 3.2, "color": "#e5401a"},
 "encoding": {"x": {"field": "date", "type": "ordinal", "title": null}, "y": {"field": "v", "type": "quantitative", "axis": null}}},
{"data": {"name": "tags"}, "transform": [{"filter": "datum.p == 'rsi'"}],
 "mark": {"type": "text", "align": "left", "baseline": "middle", "dx": 4.2, "fontSize": 4.6, "fontWeight": "bold", "color": "#ffffff"},
 "encoding": {"x": {"field": "date", "type": "ordinal", "title": null}, "y": {"field": "v", "type": "quantitative", "axis": null}, "text": {"field": "t"}}},
{"data": {"name": "notes"}, "transform": [{"filter": "datum.pos == 'r1'"}],
 "mark": {"type": "text", "align": "left", "baseline": "middle", "dx": -0.25, "dy": 4, "fontSize": 4.4, "color": "#ee4a22"},
 "encoding": {"x": {"field": "date", "type": "ordinal", "title": null}, "y": {"datum": 123.4, "type": "quantitative", "axis": null}, "text": {"field": "t"}}},
{"data": {"name": "notes"}, "transform": [{"filter": "datum.pos == 'b1'"}],
 "mark": {"type": "text", "align": "left", "baseline": "middle", "dx": 8, "dy": 11, "fontSize": 4, "color": "#9a9a9a"},
 "encoding": {"x": {"field": "date", "type": "ordinal", "title": null}, "y": {"datum": 9.1, "type": "quantitative", "axis": null}, "text": {"field": "t"}}}
]
}
]
}
